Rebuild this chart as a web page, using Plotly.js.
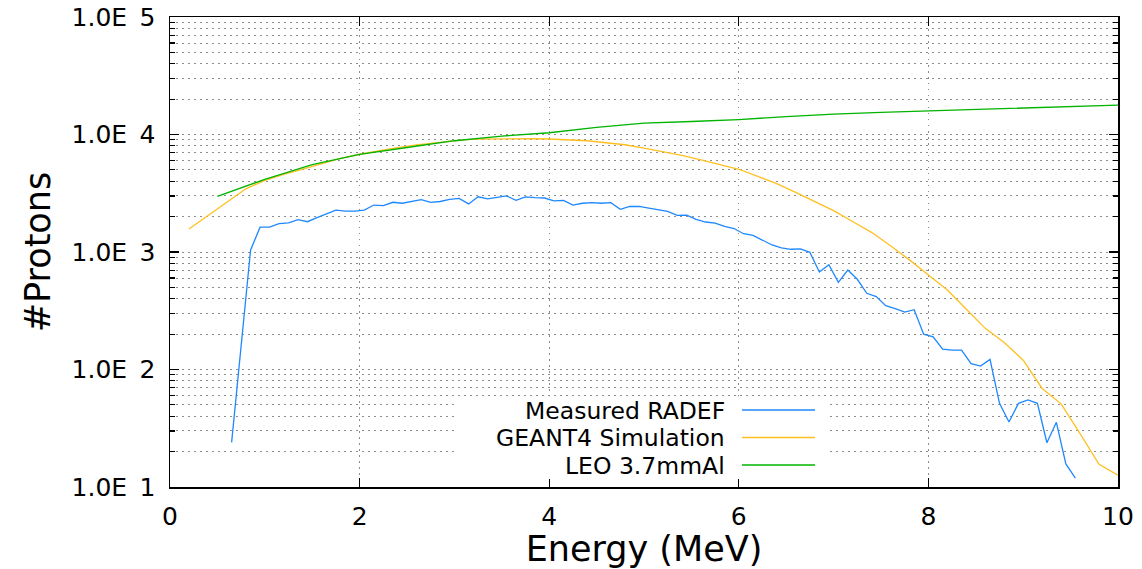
<!DOCTYPE html>
<html>
<head>
<meta charset="utf-8">
<script src="https://cdn.plot.ly/plotly-3.0.1.min.js"></script>
<style>
  html, body { margin: 0; padding: 0; background: #ffffff; }
  #chart { width: 1142px; height: 569px; }
</style>
</head>
<body>
<div id="chart"></div>
<script>
// ---- Data ----
const measuredEnergy = [0.65, 0.85, 0.95, 1.05, 1.15, 1.25, 1.35, 1.45, 1.55, 1.65, 1.75, 1.85, 1.95,
  2.05, 2.15, 2.25, 2.35, 2.45, 2.55, 2.65, 2.75, 2.85, 2.95, 3.05, 3.15, 3.25, 3.35, 3.45, 3.55, 3.65,
  3.75, 3.85, 3.95, 4.05, 4.15, 4.25, 4.35, 4.45, 4.55, 4.65, 4.75, 4.85, 4.95, 5.05, 5.15, 5.25, 5.35,
  5.45, 5.55, 5.65, 5.75, 5.85, 5.95, 6.05, 6.15, 6.25, 6.35, 6.45, 6.55, 6.65, 6.75, 6.85, 6.95, 7.05,
  7.15, 7.25, 7.35, 7.45, 7.55, 7.65, 7.75, 7.85, 7.95, 8.05, 8.15, 8.25, 8.35, 8.45, 8.55, 8.65, 8.75,
  8.85, 8.95, 9.05, 9.15, 9.25, 9.35, 9.45, 9.55];
const measuredCounts = [24, 1040, 1625, 1625, 1742, 1770, 1885, 1810, 1960, 2100, 2275, 2230, 2230,
  2275, 2510, 2480, 2650, 2600, 2690, 2790, 2640, 2690, 2800, 2860, 2565, 2950, 2830, 2900, 3000, 2750,
  2950, 2900, 2880, 2720, 2750, 2510, 2600, 2630, 2600, 2630, 2305, 2440, 2440, 2365, 2305, 2220, 2050,
  2055, 1895, 1800, 1760, 1655, 1585, 1430, 1387, 1265, 1148, 1082, 1055, 1065, 993, 676, 780, 552,
  703, 586, 445, 417, 349, 329, 308, 323, 200, 190, 149, 146, 146, 112, 107, 122, 51.5,
  35.7, 51.5, 55, 51.5, 23.8, 35.5, 15.7, 11.9];

const geantEnergy = [0.2, 0.4, 0.6, 0.8, 1.0, 1.2, 1.4, 1.6, 1.8, 2.0, 2.2, 2.4, 2.6, 2.8, 3.0, 3.2,
  3.4, 3.6, 3.8, 4.0, 4.2, 4.4, 4.6, 4.8, 5.0, 5.2, 5.4, 5.6, 5.8, 6.0, 6.2, 6.4, 6.6, 6.8, 7.0, 7.2,
  7.4, 7.6, 7.8, 8.0, 8.2, 8.4, 8.6, 8.8, 9.0, 9.2, 9.4, 9.6, 9.8, 10.0];
const geantCounts = [1570, 2030, 2630, 3450, 4070, 4580, 5070, 5670, 6270, 6790, 7260, 7730, 8170,
  8540, 8830, 9120, 9180, 9230, 9200, 9160, 9020, 8850, 8510, 8180, 7670, 7180, 6640, 6070, 5540, 5060,
  4400, 3820, 3220, 2690, 2250, 1820, 1470, 1130, 857, 637, 475, 326, 224, 170, 120, 69, 51, 28.5,
  15.6, 12.6];

const leoEnergy = [0.5, 1.0, 1.5, 2.0, 2.5, 3.0, 3.5, 4.0, 4.5, 5.0, 5.5, 6.0, 6.5, 7.0, 7.5, 8.0,
  8.5, 9.0, 9.5, 10.0];
const leoCounts = [2980, 4150, 5550, 6780, 7750, 8850, 9700, 10350, 11500, 12500, 12900, 13400, 14200,
  14900, 15400, 15850, 16300, 16800, 17300, 17800];

const seriesNames = ['Measured RADEF', 'GEANT4 Simulation', 'LEO 3.7mmAl'];
const seriesColors = ['#1e88ff', '#ffbf1f', '#00b400'];

const yTickVals = [10, 100, 1000, 10000, 100000];
const yTickText = ['1.0E\u20021', '1.0E\u20022', '1.0E\u20023', '1.0E\u20024', '1.0E\u20025'];
const xTickVals = [0, 2, 4, 6, 8, 10];

// minor tick positions on the log axis (2..9 in each decade)
const yMinorVals = [];
[10, 100, 1000, 10000].forEach(d => { for (let m = 2; m <= 9; m++) yMinorVals.push(m * d); });

const FONT = 'DejaVu Sans, Verdana, sans-serif';
const GRID = '#8c8c8c';
const GRIDDASH = '1.5px,4.5px';

const traces = [
  { x: measuredEnergy, y: measuredCounts, name: seriesNames[0], mode: 'lines',
    line: { color: seriesColors[0], width: 1.3 } },
  { x: geantEnergy, y: geantCounts, name: seriesNames[1], mode: 'lines',
    line: { color: seriesColors[1], width: 1.3 } },
  { x: leoEnergy, y: leoCounts, name: seriesNames[2], mode: 'lines',
    line: { color: seriesColors[2], width: 1.3 } }
];

// gnuplot-style key: right-aligned text with the line sample to its right
const keyRows = [0.1638, 0.1053, 0.0468];
const annotations = seriesNames.map((n, i) => ({
  xref: 'paper', yref: 'paper', x: 0.587, y: keyRows[i], xanchor: 'right', yanchor: 'middle',
  height: 25, valign: 'middle', borderpad: 0,
  text: n, showarrow: false, font: { family: FONT, size: 23.5, color: '#000' }
}));
const shapes = [
  { type: 'rect', xref: 'paper', yref: 'paper', x0: 0.300, x1: 0.694, y0: 0.017, y1: 0.193,
    fillcolor: '#ffffff', line: { width: 0 }, layer: 'above' }
].concat(seriesColors.map((c, i) => ({
  type: 'line', xref: 'paper', yref: 'paper', x0: 0.6034, x1: 0.6804, y0: keyRows[i], y1: keyRows[i],
  line: { color: c, width: 1.3 }, layer: 'above'
})));

const layout = {
  width: 1142, height: 569,
  margin: { l: 170, r: 24, t: 17, b: 82, pad: 0 },
  paper_bgcolor: '#ffffff', plot_bgcolor: '#ffffff',
  showlegend: false,
  font: { family: FONT, size: 25, color: '#000' },
  xaxis: {
    range: [0, 10], tickmode: 'array', tickvals: xTickVals,
    ticks: 'inside', ticklen: 9, tickwidth: 1.2, tickcolor: '#000',
    showline: true, linecolor: '#000', linewidth: 1.5, mirror: 'ticks',
    showgrid: true, gridcolor: GRID, griddash: GRIDDASH, gridwidth: 1,
    zeroline: false, ticklabelstandoff: 6,
    tickfont: { family: FONT, size: 25, color: '#000' },
    title: { text: 'Energy (MeV)', font: { family: FONT, size: 35, color: '#000' }, standoff: 4 }
  },
  yaxis: {
    type: 'log', range: [1, 5], tickmode: 'array', tickvals: yTickVals, ticktext: yTickText,
    ticks: 'inside', ticklen: 9, tickwidth: 1.2, tickcolor: '#000',
    showline: true, linecolor: '#000', linewidth: 1.5, mirror: 'ticks',
    showgrid: true, gridcolor: GRID, griddash: GRIDDASH, gridwidth: 1,
    zeroline: false, ticklabelstandoff: 8,
    tickfont: { family: FONT, size: 25, color: '#000' },
    minor: { tickmode: 'array', tickvals: yMinorVals, ticks: 'inside', ticklen: 5, tickcolor: '#000',
      showgrid: true, gridcolor: GRID, griddash: GRIDDASH, gridwidth: 1 },
    title: { text: '#Protons', font: { family: FONT, size: 35, color: '#000' }, standoff: 10 }
  },
  annotations: annotations,
  shapes: shapes
};

Plotly.newPlot('chart', traces, layout, { displayModeBar: false, staticPlot: true });
</script>
</body>
</html>
